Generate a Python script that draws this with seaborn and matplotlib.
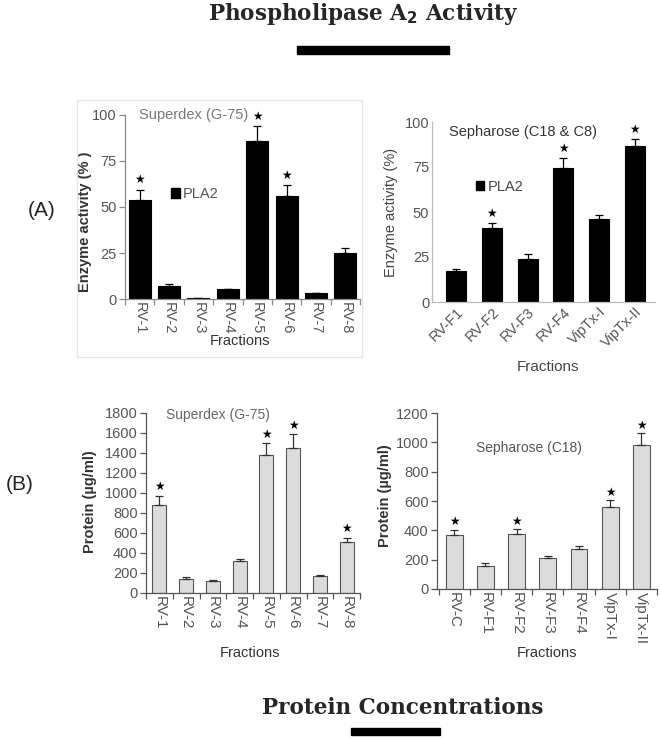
import numpy as np
import pandas as pd
import seaborn as sns
import matplotlib.pyplot as plt
import matplotlib.patches as mpatches

# Panel A, left: Superdex (G-75), PLA2 activity
sdx_fractions = ['RV-1', 'RV-2', 'RV-3', 'RV-4', 'RV-5', 'RV-6', 'RV-7', 'RV-8']
sdx_activity = [54, 7, 0.8, 5.5, 86, 56, 3, 25]
sdx_activity_err = [5.5, 1, 0, 0, 8, 6, 0, 2.5]
sdx_activity_sig = [True, False, False, False, True, True, False, False]

# Panel A, right: Sepharose (C18 & C8), PLA2 activity
seph_fractions = ['RV-F1', 'RV-F2', 'RV-F3', 'RV-F4', 'VipTx-I', 'VipTx-II']
seph_activity = [17, 41, 24, 74.5, 46, 86.5]
seph_activity_err = [1.5, 3, 2.5, 5.5, 2.5, 4]
seph_activity_sig = [False, True, False, True, False, True]

# Panel B, left: Superdex (G-75), protein
sdx_protein = [880, 140, 120, 325, 1385, 1455, 175, 510]
sdx_protein_err = [95, 25, 8, 20, 115, 135, 5, 45]
sdx_protein_sig = [True, False, False, False, True, True, False, True]

# Panel B, right: Sepharose (C18), protein
c18_fractions = ['RV-C', 'RV-F1', 'RV-F2', 'RV-F3', 'RV-F4', 'VipTx-I', 'VipTx-II']
c18_protein = [370, 160, 378, 210, 272, 558, 983]
c18_protein_err = [35, 15, 32, 15, 23, 47, 82]
c18_protein_sig = [True, False, True, False, False, True, True]

sns.set_theme(style='ticks')
plt.rcParams['font.family'] = ['Liberation Sans', 'DejaVu Sans']

fig = plt.figure(figsize=(6.61, 7.39), dpi=100)


def frac(l, t, r, b):
    # pixel box -> figure fraction
    return [l / 661, 1 - b / 739, (r - l) / 661, (b - t) / 739]


def bars(ax, cats, vals, errs, sig, color, edge, ecolor, width, star_off):
    df = pd.DataFrame({'fraction': cats, 'value': vals})
    sns.barplot(data=df, x='fraction', y='value', order=cats, color=color,
                edgecolor=edge, linewidth=0.8, width=width, saturation=1,
                errorbar=None, ax=ax)
    pos = np.arange(len(cats))
    errs = np.array(errs)
    ax.errorbar(pos, vals, yerr=[np.zeros_like(errs), errs], fmt='none',
                ecolor=ecolor, elinewidth=0.9, capsize=3, capthick=0.9)
    for p, v, e, s in zip(pos, vals, errs, sig):
        if s:
            ax.text(p, v + e + star_off, '★', ha='center', va='center',
                    fontsize=8.5, color='black')
    ax.set_xlim(-0.5, len(cats) - 0.5)


def style(ax, spine_col, tick_col, xticks_between=True):
    for s in ['top', 'right']:
        ax.spines[s].set_visible(False)
    for s in ['left', 'bottom']:
        ax.spines[s].set_color(spine_col)
        ax.spines[s].set_linewidth(0.9)
    ax.tick_params(axis='both', colors=spine_col, labelcolor=tick_col,
                   labelsize=10.5, length=4, width=0.9, direction='out', pad=2)
    n = len(ax.get_xticks())
    if xticks_between:
        ax.set_xticks(np.arange(-0.5, n, 1), minor=True)
        ax.tick_params(axis='x', which='major', length=0)
        ax.tick_params(axis='x', which='minor', length=4, color=spine_col,
                       width=0.9)


# ---- (A) left
axA1 = fig.add_axes(frac(125, 115, 360, 299))
bars(axA1, sdx_fractions, sdx_activity, sdx_activity_err, sdx_activity_sig,
     'black', 'black', 'black', 0.75, 5)
axA1.set_ylim(0, 100)
axA1.set_yticks([0, 25, 50, 75, 100])
style(axA1, '#8a8a8a', '#555555')
axA1.set_xticks(range(len(sdx_fractions)))
axA1.set_xticklabels(sdx_fractions, rotation=-90, fontsize=10.5, va='top')
axA1.set_xlabel('Fractions', fontsize=10.5, color='#333333')
axA1.xaxis.set_label_coords(0.49, -0.19)
axA1.set_ylabel('Enzyme activity (% )', fontsize=10.5, fontweight='bold',
                color='#333333')
axA1.yaxis.set_label_coords(-0.14, 0.42)
axA1.text(0.29, 1.0, 'Superdex (G-75)', transform=axA1.transAxes,
          ha='center', va='center', fontsize=10.5, color='#777777')
axA1.legend(handles=[mpatches.Patch(color='black', label='PLA2')],
            loc='center left', bbox_to_anchor=(0.17, 0.57), frameon=False,
            handlelength=0.6, handleheight=0.6, handletextpad=0.2,
            fontsize=10.5, labelcolor='#555555', borderaxespad=0)
fig.add_artist(mpatches.Rectangle((77 / 661, 1 - 357 / 739), 285 / 661,
                                  257 / 739, transform=fig.transFigure,
                                  fill=False, edgecolor='#e6e6e6', lw=1))

# ---- (A) right
axA2 = fig.add_axes(frac(432, 122, 655, 302))
bars(axA2, seph_fractions, seph_activity, seph_activity_err,
     seph_activity_sig, 'black', 'black', 'black', 0.56, 5)
axA2.set_xlim(-0.67, 5.56)
axA2.set_ylim(0, 100)
axA2.set_yticks([0, 25, 50, 75, 100])
style(axA2, '#bbbbbb', '#555555', xticks_between=False)
axA2.tick_params(length=0)
axA2.set_xticks(range(len(seph_fractions)))
axA2.set_xticklabels(seph_fractions, rotation=45, ha='right',
                     rotation_mode='anchor', fontsize=10.5)
axA2.set_xlabel('Fractions', fontsize=11, color='#444444')
axA2.xaxis.set_label_coords(0.52, -0.32)
axA2.set_ylabel('Enzyme activity (%)', fontsize=10.5, color='#444444')
axA2.yaxis.set_label_coords(-0.152, 0.5)
axA2.text(0.41, 0.944, 'Sepharose (C18 & C8)', transform=axA2.transAxes,
          ha='center', va='center', fontsize=10.5, color='#333333')
axA2.legend(handles=[mpatches.Patch(color='black', label='PLA2')],
            loc='center left', bbox_to_anchor=(0.17, 0.64), frameon=False,
            handlelength=0.6, handleheight=0.6, handletextpad=0.2,
            fontsize=10.5, labelcolor='#444444', borderaxespad=0)

# ---- (B) left
axB1 = fig.add_axes(frac(146, 413, 360, 593))
bars(axB1, sdx_fractions, sdx_protein, sdx_protein_err, sdx_protein_sig,
     '#dcdcdc', '#555555', '#333333', 0.52, 85)
axB1.set_ylim(0, 1800)
axB1.set_yticks(range(0, 1801, 200))
style(axB1, '#555555', '#555555')
axB1.set_xticks(range(len(sdx_fractions)))
axB1.set_xticklabels(sdx_fractions, rotation=-90, fontsize=11, va='top')
axB1.set_xlabel('Fractions', fontsize=10.5, color='#333333')
axB1.xaxis.set_label_coords(0.486, -0.294)
axB1.set_ylabel('Protein (µg/ml)', fontsize=10.5, fontweight='bold',
                color='#333333')
axB1.yaxis.set_label_coords(-0.229, 0.505)
axB1.text(0.336, 0.99, 'Superdex (G-75)', transform=axB1.transAxes,
          ha='center', va='center', fontsize=10, color='#666666')

# ---- (B) right
axB2 = fig.add_axes(frac(437, 413, 657, 589))
bars(axB2, c18_fractions, c18_protein, c18_protein_err, c18_protein_sig,
     '#dcdcdc', '#555555', '#333333', 0.54, 50)
axB2.set_xlim(-0.55, 6.5)
axB2.set_ylim(0, 1200)
axB2.set_yticks(range(0, 1201, 200))
style(axB2, '#555555', '#555555')
axB2.set_xticks(range(len(c18_fractions)))
axB2.set_xticklabels(c18_fractions, rotation=-90, fontsize=11, va='top')
axB2.set_xlabel('Fractions', fontsize=10.5, color='#333333')
axB2.xaxis.set_label_coords(0.5, -0.324)
axB2.set_ylabel('Protein (µg/ml)', fontsize=10.5, fontweight='bold',
                color='#333333')
axB2.yaxis.set_label_coords(-0.205, 0.53)
axB2.text(0.42, 0.80, 'Sepharose (C18)', transform=axB2.transAxes,
          ha='center', va='center', fontsize=10, color='#555555')

# ---- headings, bars under them, panel letters
fig.text(363 / 661, 1 - 14 / 739, 'Phospholipase A$_\\mathbf{2}$ Activity',
         ha='center', va='center', fontsize=15.5, fontweight='heavy',
         family='DejaVu Serif')
fig.add_artist(mpatches.Rectangle((297 / 661, 1 - 54 / 739), 152 / 661,
                                  8 / 739, transform=fig.transFigure,
                                  color='black'))
fig.text(403 / 661, 1 - 708 / 739, 'Protein Concentrations', ha='center',
         va='center', fontsize=15.5, fontweight='heavy', family='DejaVu Serif')
fig.add_artist(mpatches.Rectangle((351 / 661, 1 - 735 / 739), 89 / 661,
                                  7 / 739, transform=fig.transFigure,
                                  color='black'))
fig.text(42 / 661, 1 - 210 / 739, '(A)', ha='center', va='center',
         fontsize=15)
fig.text(20 / 661, 1 - 485 / 739, '(B)', ha='center', va='center',
         fontsize=15)

fig.savefig('out.png', dpi=100)
